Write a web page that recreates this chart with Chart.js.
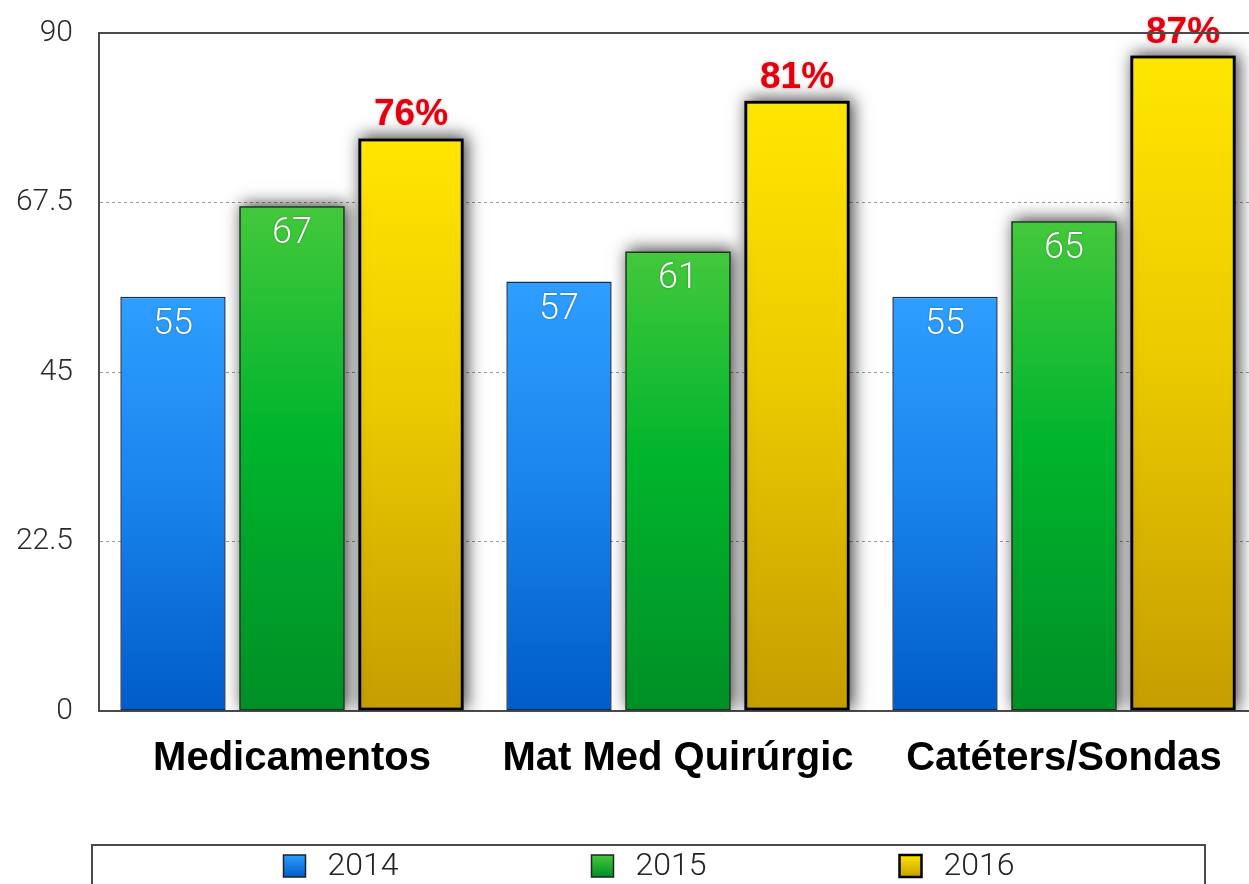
<!DOCTYPE html>
<html>
<head>
<meta charset="utf-8">
<script src="https://cdn.jsdelivr.net/npm/chart.js@4/dist/chart.umd.min.js"></script>
<style>
  html, body { margin: 0; padding: 0; background: #fff; overflow: hidden; }
  #wrap { width: 1249px; height: 884px; overflow: hidden; }
  canvas { display: block; }
</style>
</head>
<body>
<div id="wrap"><canvas id="c" width="1258" height="884"></canvas></div>
<script>
const categories = ["Medicamentos", "Mat Med Quirúrgic", "Catéters/Sondas"];
const seriesLabels = ["2014", "2015", "2016"];
const values2014 = [55, 57, 55];
const values2015 = [67, 61, 65];
const values2016 = [76, 81, 87];
const yTicks = [0, 22.5, 45, 67.5, 90];

const gradStops = [
  ["#2e9eff", "#1a86ee", "#005cc8"],
  ["#44c83c", "#00b52c", "#008f26"],
  ["#ffe600", "#eccb00", "#c59e00"]
];
const borderColors = ["#1b2d4f", "#173a1c", "#000000"];
const borderWidths = [1.5, 1.5, 3];

function barGradient(ctx, dsIndex) {
  const chart = ctx.chart;
  const stops = gradStops[dsIndex];
  if (!chart.chartArea || ctx.type !== 'data') return stops[1];
  const y = chart.scales.y;
  const top = y.getPixelForValue(ctx.raw);
  const bottom = y.getPixelForValue(0);
  const g = chart.ctx.createLinearGradient(0, top, 0, bottom);
  g.addColorStop(0, stops[0]);
  g.addColorStop(0.45, stops[1]);
  g.addColorStop(1, stops[2]);
  return g;
}

const LIGHT = "'Roboto', 'Helvetica Neue', 'Liberation Sans', sans-serif";
const BOLD = "'Liberation Sans', 'Helvetica', Arial, sans-serif";

// Soft drop shadow painted behind each bar of the 2015 and 2016 series
const shadowPlugin = {
  id: 'barShadow',
  beforeDatasetDraw(chart, args) {
    if (args.index < 1) return;
    const ctx = chart.ctx;
    const a = chart.chartArea;
    ctx.save();
    ctx.beginPath();
    ctx.rect(a.left, 0, a.right - a.left, a.bottom);
    ctx.clip();
    ctx.shadowColor = 'rgba(0,0,0,0.75)';
    ctx.shadowBlur = 16;
    ctx.shadowOffsetX = 3;
    ctx.shadowOffsetY = -2;
    ctx.fillStyle = '#555';
    args.meta.data.forEach((bar) => {
      const p = bar.getProps(['x', 'y', 'base', 'width'], true);
      ctx.fillRect(p.x - p.width / 2, p.y, p.width, p.base - p.y);
    });
    ctx.restore();
  }
};

const framePlugin = {
  id: 'frame',
  afterDraw(chart) {
    const ctx = chart.ctx;
    const a = chart.chartArea;
    ctx.save();
    ctx.strokeStyle = '#4a4a4a';
    ctx.lineWidth = 2;
    ctx.beginPath();
    ctx.moveTo(a.left, a.top);
    ctx.lineTo(a.right, a.top);
    ctx.stroke();
    ctx.restore();
  }
};

const labelPlugin = {
  id: 'valueLabels',
  afterDatasetsDraw(chart) {
    const ctx = chart.ctx;
    chart.data.datasets.forEach((ds, di) => {
      const meta = chart.getDatasetMeta(di);
      meta.data.forEach((bar, i) => {
        const v = ds.data[i];
        ctx.save();
        ctx.textAlign = 'center';
        if (di < 2) {
          ctx.font = "300 36px " + LIGHT;
          ctx.fillStyle = '#ffffff';
          ctx.textBaseline = 'middle';
          ctx.shadowColor = 'rgba(0,0,0,0.35)';
          ctx.shadowBlur = 2;
          ctx.fillText(String(v), bar.x, bar.y + 28);
        } else {
          ctx.font = "bold 37px " + BOLD;
          ctx.fillStyle = '#e5000f';
          ctx.textBaseline = 'alphabetic';
          ctx.shadowColor = 'rgba(0,0,0,0.3)';
          ctx.shadowBlur = 3;
          ctx.fillText(v + '%', bar.x, bar.y - 13);
        }
        ctx.restore();
      });
    });
  }
};

const legendPlugin = {
  id: 'boxLegend',
  afterDraw(chart) {
    const ctx = chart.ctx;
    const left = 92, right = 1205, top = 845;
    ctx.save();
    ctx.strokeStyle = '#4a4a4a';
    ctx.lineWidth = 2;
    ctx.beginPath();
    ctx.moveTo(left, chart.height + 5);
    ctx.lineTo(left, top);
    ctx.lineTo(right, top);
    ctx.lineTo(right, chart.height + 5);
    ctx.stroke();
    const cx = (left + right) / 2;
    const step = 308;
    chart.data.datasets.forEach((ds, di) => {
      const c = cx + (di - 1) * step;
      const sx = c - 57, sy = 855, s = 22;
      const g = ctx.createLinearGradient(0, sy, 0, sy + s);
      g.addColorStop(0, gradStops[di][0]);
      g.addColorStop(1, gradStops[di][2]);
      ctx.fillStyle = g;
      ctx.fillRect(sx, sy, s, s);
      ctx.strokeStyle = di === 2 ? '#000' : '#222';
      ctx.lineWidth = di === 2 ? 2.5 : 1.5;
      ctx.strokeRect(sx, sy, s, s);
      ctx.font = "300 32px " + LIGHT;
      ctx.fillStyle = '#222';
      ctx.textAlign = 'left';
      ctx.textBaseline = 'middle';
      ctx.fillText(ds.label, sx + s + 22, sy + s / 2 + 1);
    });
    ctx.restore();
  }
};

const datasets = [values2014, values2015, values2016].map((vals, di) => ({
  label: seriesLabels[di],
  data: vals,
  backgroundColor: (ctx) => barGradient(ctx, di),
  borderColor: borderColors[di],
  borderWidth: borderWidths[di],
  borderSkipped: false,
  categoryPercentage: 0.925,
  barPercentage: 0.885
}));

new Chart(document.getElementById('c'), {
  type: 'bar',
  data: { labels: categories, datasets },
  options: {
    responsive: false,
    animation: false,
    layout: { padding: { top: 33, left: 0, right: 1, bottom: 0 } },
    plugins: { legend: { display: false }, tooltip: { enabled: false } },
    scales: {
      x: {
        grid: { display: false, drawTicks: false },
        border: { display: true, color: '#4a4a4a', width: 2 },
        ticks: {
          color: '#000',
          font: { family: BOLD, size: 40, weight: 'bold' },
          padding: 24,
          maxRotation: 0,
          autoSkip: false
        },
        afterFit(scale) { scale.height = 173; scale.paddingLeft = 0; scale.paddingRight = 0; }
      },
      y: {
        min: 0,
        max: 90,
        afterBuildTicks(scale) { scale.ticks = yTicks.map(v => ({ value: v })); },
        grid: {
          drawTicks: false,
          color: (ctx) => (ctx.tick && (ctx.tick.value === 0 || ctx.tick.value === 90)) ? 'rgba(0,0,0,0)' : '#9a9a9a',
          lineWidth: 1
        },
        border: { display: true, color: '#4a4a4a', width: 2, dash: [3, 3] },
        ticks: {
          color: '#2a2a2a',
          font: { family: LIGHT, size: 30, weight: '300' },
          padding: 26,
          callback: (v) => String(v)
        },
        afterFit(scale) { scale.width = 99; scale.paddingTop = 0; scale.paddingBottom = 0; }
      }
    }
  },
  plugins: [shadowPlugin, labelPlugin, framePlugin, legendPlugin]
});
</script>
</body>
</html>
